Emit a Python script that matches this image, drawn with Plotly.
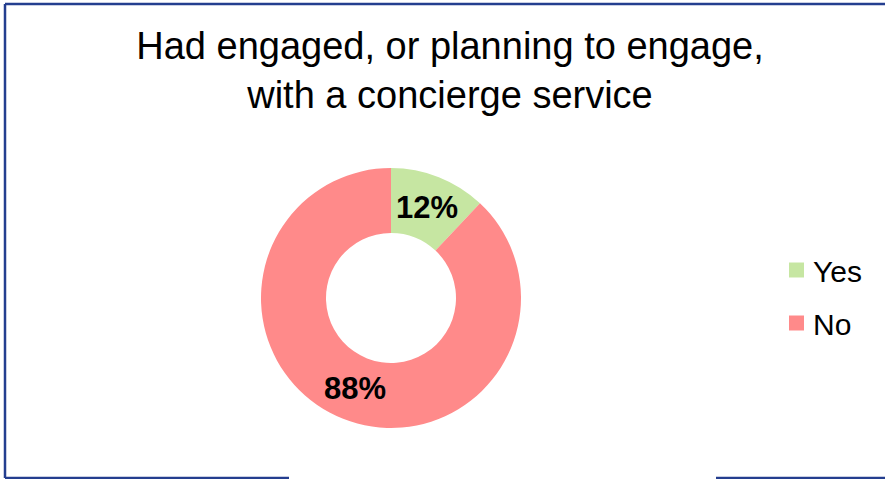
import math
import plotly.graph_objects as go

# Survey answers
categories = ["Yes", "No"]
shares = [12, 88]
colors = ["#C6E6A2", "#FF8A8A"]

W, H = 885, 479
FONT = "Liberation Sans, Arial, sans-serif"


def px(x):
    return x / W


def py(y):
    return 1 - y / H


fig = go.Figure()

# Donut: centre (391, 298) px, outer radius 130 px, hole half the radius
cx, cy, r = 391, 298, 130
hole = 0.5
fig.add_trace(go.Pie(
    labels=categories,
    values=shares,
    hole=hole,
    sort=False,
    direction="clockwise",
    rotation=0,
    marker=dict(colors=colors, line=dict(width=0)),
    textinfo="none",
    domain=dict(x=[px(cx - r), px(cx + r)], y=[py(cy + r), py(cy - r)]),
    showlegend=False,
    hoverinfo="label+percent",
))

shapes = []
annotations = []

# Percentage labels, centred on each slice's bisector at mid-ring
total = sum(shares)
mid_r = r * (1 + hole) / 2
start = 0.0
for val in shares:
    ang = 2 * math.pi * (start + val / 2) / total
    start += val
    lx = cx + mid_r * math.sin(ang)
    ly = cy - mid_r * math.cos(ang)
    annotations.append(dict(text=f"<b>{val}%</b>", xref="paper", yref="paper",
                            x=px(lx), y=py(ly), xanchor="center", yanchor="middle",
                            showarrow=False,
                            font=dict(family=FONT, size=31, color="black")))

# Legend: coloured square + label per category
legend_y = [270, 323]
for label, col, ly in zip(categories, colors, legend_y):
    shapes.append(dict(type="rect", xref="paper", yref="paper",
                       x0=px(789), x1=px(804), y0=py(ly + 7.5), y1=py(ly - 7.5),
                       fillcolor=col, line=dict(width=0)))
    annotations.append(dict(text=label, xref="paper", yref="paper",
                            x=px(811), y=py(ly + 1), xanchor="left", yanchor="middle",
                            showarrow=False,
                            font=dict(family=FONT, size=30, color="black")))

# Frame around the chart (bottom edge broken below the donut)
border = "#243E8F"
bw = 2.5
frame = [
    (5, 4, 885, 4),
    (5, 4, 5, 478),
    (5, 478, 289, 478),
    (716, 478, 885, 478),
]
for x0, y0, x1, y1 in frame:
    shapes.append(dict(type="line", xref="paper", yref="paper",
                       x0=px(x0), y0=py(y0), x1=px(x1), y1=py(y1),
                       line=dict(color=border, width=bw)))

fig.update_layout(
    width=W,
    height=H,
    margin=dict(l=0, r=0, t=0, b=0),
    paper_bgcolor="white",
    plot_bgcolor="white",
    title=dict(
        text="Had engaged, or planning to engage,<br>with a concierge service",
        x=px(450), xanchor="center",
        y=py(59), yanchor="top", yref="container",
        font=dict(family=FONT, size=38, color="black"),
    ),
    shapes=shapes,
    annotations=annotations,
)

fig.write_html("out.html")
